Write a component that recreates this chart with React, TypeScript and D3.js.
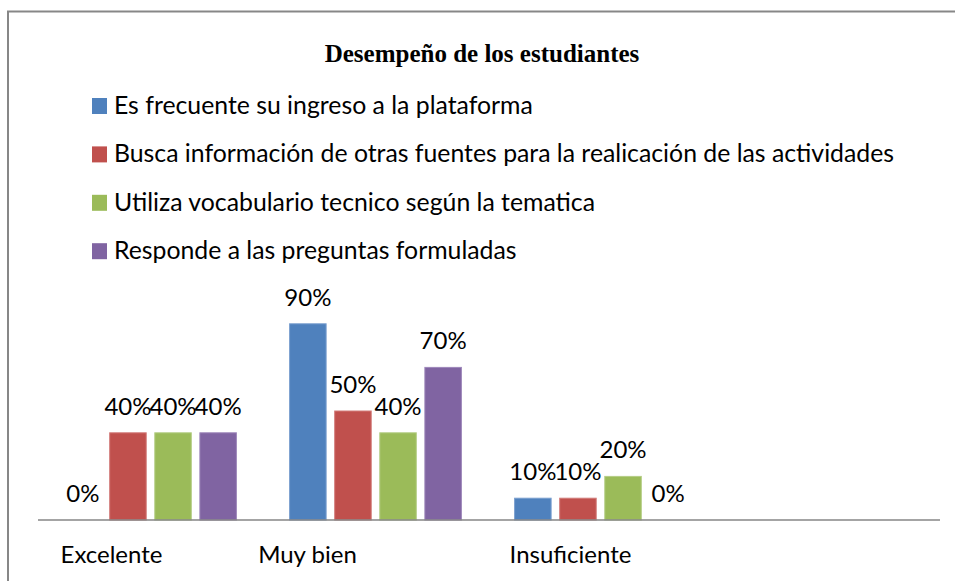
import React from 'react'
import { scaleBand, scaleLinear } from 'd3'

const width = 955
const height = 581

// chart data
const categories = ['Excelente', 'Muy bien', 'Insuficiente', '']
const seriesNames = [
  'Es frecuente su ingreso a la plataforma',
  'Busca información de otras fuentes para la realicación de las actividades',
  'Utiliza vocabulario tecnico según la tematica',
  'Responde a las preguntas formuladas',
]
const ingreso = [0, 90, 10]
const buscaInfo = [40, 50, 10]
const vocabulario = [40, 40, 20]
const responde = [40, 70, 0]
const series = [ingreso, buscaInfo, vocabulario, responde]

const colors = ['#4F81BD', '#C0504D', '#9BBB59', '#8064A2']
const edgeColors = ['#7A9FCF', '#D27C7A', '#B5CE86', '#9D87BA']

// Excel places category labels a bit off-center
const labelShift = [-39, -68, -30, 0]

const font = 'Lato, Carlito, Calibri, sans-serif'
const fontSize = 24

const baseY = 520
const xBand = scaleBand().domain(categories).range([38, 938])
const xInner = scaleBand()
  .domain(seriesNames)
  .range([0, xBand.bandwidth()])
  .paddingInner(0.19)
  .paddingOuter(0.59)
const y = scaleLinear().domain([0, 100]).range([baseY, baseY - 218])

const legendTop = 114
const legendStep = 48.4

export default function App() {
  return (
    <svg
      width={width}
      height={height}
      style={{ position: 'absolute', left: 0, top: 0, background: '#fff' }}
    >
      <rect x={8} y={11.5} width={980} height={600} fill="#fff" stroke="#878787" strokeWidth={2} />

      <text
        x={482}
        y={62}
        textAnchor="middle"
        style={{ fontFamily: '"Liberation Serif", "Times New Roman", serif', fontWeight: 'bold', fontSize: 25 }}
      >
        Desempeño de los estudiantes
      </text>

      {seriesNames.map((name, i) => (
        <g key={name} transform={`translate(92,${legendTop + i * legendStep})`}>
          <rect x={0} y={-16} width={15} height={16} fill={colors[i]} />
          <text x={22} y={0} style={{ fontFamily: font, fontSize: 24.8 }}>
            {name}
          </text>
        </g>
      ))}

      {series.map((vals, si) =>
        vals.map((v, ci) => {
          const x0 = (xBand(categories[ci]) ?? 0) + (xInner(seriesNames[si]) ?? 0)
          const bw = xInner.bandwidth()
          return (
            <g key={`${si}-${ci}`}>
              {v > 0 && (
                <rect
                  x={x0}
                  y={y(v)}
                  width={bw}
                  height={baseY - y(v)}
                  fill={colors[si]}
                  stroke={edgeColors[si]}
                  strokeWidth={1}
                />
              )}
              <text
                x={x0 + bw / 2}
                y={y(v) - 18}
                textAnchor="middle"
                style={{ fontFamily: font, fontSize }}
              >
                {`${v}%`}
              </text>
            </g>
          )
        })
      )}

      <line x1={38} x2={940} y1={baseY} y2={baseY} stroke="#868686" strokeWidth={1.5} />

      {categories.map((c, i) => (
        <text
          key={c + i}
          x={(xBand(c) ?? 0) + xBand.bandwidth() / 2 + labelShift[i]}
          y={563}
          textAnchor="middle"
          style={{ fontFamily: font, fontSize }}
        >
          {c}
        </text>
      ))}
    </svg>
  )
}
